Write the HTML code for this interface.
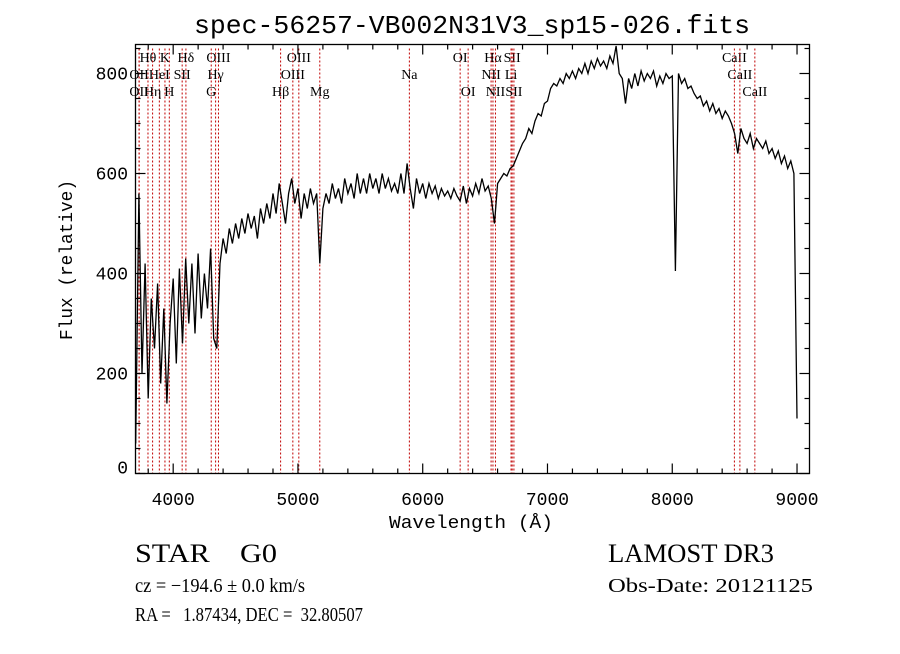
<!DOCTYPE html>
<html><head><meta charset="utf-8"><style>
body{margin:0;background:#fff;width:900px;height:649px;overflow:hidden}
text{fill:#000;white-space:pre}
.s{font-family:"Liberation Sans",sans-serif}
.r{font-family:"Liberation Serif",serif}
.m{font-family:"Liberation Mono",monospace}
</style></head><body>
<svg id="chart" width="900" height="649" xmlns="http://www.w3.org/2000/svg">
<rect width="900" height="649" fill="#fff"/>
<text class="m" x="472" y="33" font-size="26" text-anchor="middle" textLength="556" lengthAdjust="spacingAndGlyphs">spec-56257-VB002N31V3_sp15-026.fits</text>
<g id="lines"></g>
<g id="ticks"></g>
<path id="spec" fill="none" stroke="#000" stroke-width="1.3"/>
<rect x="135.5" y="44.5" width="674" height="429" fill="none" stroke="#000" stroke-width="1.3"/>
<text class="m" x="471" y="528" font-size="18" text-anchor="middle" textLength="164" lengthAdjust="spacingAndGlyphs">Wavelength (Å)</text>
<text class="m" transform="translate(72,260) rotate(-90)" font-size="18" text-anchor="middle" textLength="160" lengthAdjust="spacingAndGlyphs">Flux (relative)</text>
<text class="r" x="135" y="562" font-size="26" textLength="142" lengthAdjust="spacingAndGlyphs">STAR    G0</text>
<text class="r" x="135" y="592" font-size="20" textLength="170" lengthAdjust="spacingAndGlyphs">cz = −194.6 ± 0.0 km/s</text>
<text class="r" x="135" y="621" font-size="20" textLength="228" lengthAdjust="spacingAndGlyphs">RA =   1.87434, DEC =  32.80507</text>
<text class="r" x="608" y="562" font-size="26" textLength="166" lengthAdjust="spacingAndGlyphs">LAMOST DR3</text>
<text class="r" x="608" y="592" font-size="20" textLength="205" lengthAdjust="spacingAndGlyphs">Obs-Date: 20121125</text>
</svg>
<script>
const wlStart = 3700;
const wlStep = 25;
const flux = [60,560,200,420,150,350,250,380,180,330,140,300,390,220,410,260,430,300,420,280,440,310,400,330,450,270,250,420,470,440,490,460,500,470,510,480,520,490,515,470,530,500,540,510,560,520,580,540,500,560,590,540,570,510,560,530,570,540,560,420,530,560,540,580,550,570,540,590,560,580,550,600,560,590,560,600,570,590,560,600,570,590,565,580,560,600,560,620,570,530,590,560,580,550,580,560,575,550,570,555,565,550,570,555,545,575,540,570,555,580,560,590,565,575,550,500,580,590,600,595,610,615,630,645,660,670,690,680,705,720,715,740,745,770,780,775,790,780,800,790,805,790,810,800,820,800,825,810,830,815,825,810,835,820,855,800,790,740,790,770,800,775,805,785,800,790,805,775,795,780,800,790,795,405,800,780,790,770,775,760,750,755,735,745,725,740,720,730,710,725,715,700,680,640,690,670,660,680,650,670,660,650,665,640,650,630,645,620,635,610,625,600,110];
const lineWl = [3798,3934,4102,4363,5007,6300,6563,6717,8498,3727,3889,4072,4340,4959,5893,6548,6708,8542,3727,3835,3969,4305,4861,5175,6364,6583,6731,8662];
const lineNames = ["Hθ","K","Hδ","OIII","OIII","OI","Hα","SII","CaII","OII","HeI","SII","Hγ","OIII","Na","NII","Li","CaII","OII","Hη","H","G","Hβ","Mg","OI","NII","SII","CaII"];
const lineRow = [0,0,0,0,0,0,0,0,0,1,1,1,1,1,1,1,1,1,2,2,2,2,2,2,2,2,2,2];
const xTicks = [4000,5000,6000,7000,8000,9000];
const yTicks = [0,200,400,600,800];
const X0=135.5, X1=809.5, Y0=473.5, Y1=44.5;
const wlMin=3698, wlMax=9100, fMin=0, fMax=858;
const xs = w => X0 + (w-wlMin)/(wlMax-wlMin)*(X1-X0);
const ys = f => Y0 - (f-fMin)/(fMax-fMin)*(Y0-Y1);
const NS="http://www.w3.org/2000/svg";
function mk(tag, attrs, parent){const e=document.createElementNS(NS,tag);for(const k in attrs)e.setAttribute(k,attrs[k]);parent.appendChild(e);return e;}
let d="";
flux.forEach((f,i)=>{const w=wlStart+i*wlStep;d+=(i?"L":"M")+xs(w).toFixed(1)+" "+ys(f).toFixed(1);});
document.getElementById("spec").setAttribute("d",d);
const lg=document.getElementById("lines");
lineWl.forEach((w,i)=>{
  const l=mk("line",{x1:xs(w),x2:xs(w),y1:Y1+4,y2:Y0,stroke:"#c00000","stroke-width":1,"stroke-dasharray":"2,2"},lg);
  
  
  const t=mk("text",{x:xs(w),y:62+lineRow[i]*17,"font-size":14,"text-anchor":"middle","class":"r"},lg);
  t.textContent=lineNames[i];
  
  
});
const tg=document.getElementById("ticks");
for(let w=3800;w<=9100;w+=200){
  const major=w%1000===0, L=major?10:5;
  mk("line",{x1:xs(w),x2:xs(w),y1:Y0,y2:Y0-L,stroke:"#000","stroke-width":1.2},tg);
  mk("line",{x1:xs(w),x2:xs(w),y1:Y1,y2:Y1+L,stroke:"#000","stroke-width":1.2},tg);
}
for(let f=0;f<=850;f+=50){
  const major=f%200===0, L=major?10:5;
  mk("line",{x1:X0,x2:X0+L,y1:ys(f),y2:ys(f),stroke:"#000","stroke-width":1.2},tg);
  mk("line",{x1:X1,x2:X1-L,y1:ys(f),y2:ys(f),stroke:"#000","stroke-width":1.2},tg);
}
xTicks.forEach(w=>{
  const t=mk("text",{x:xs(w),y:505,"font-size":18,"text-anchor":"middle","class":"m"},tg);
  t.textContent=w;
  
  
});
yTicks.forEach(f=>{
  const t=mk("text",{x:128,y:ys(f)+6-(f===0?6:0),"font-size":18,"text-anchor":"end","class":"m"},tg);
  t.textContent=f;
  
  
});
</script>
</body></html>
